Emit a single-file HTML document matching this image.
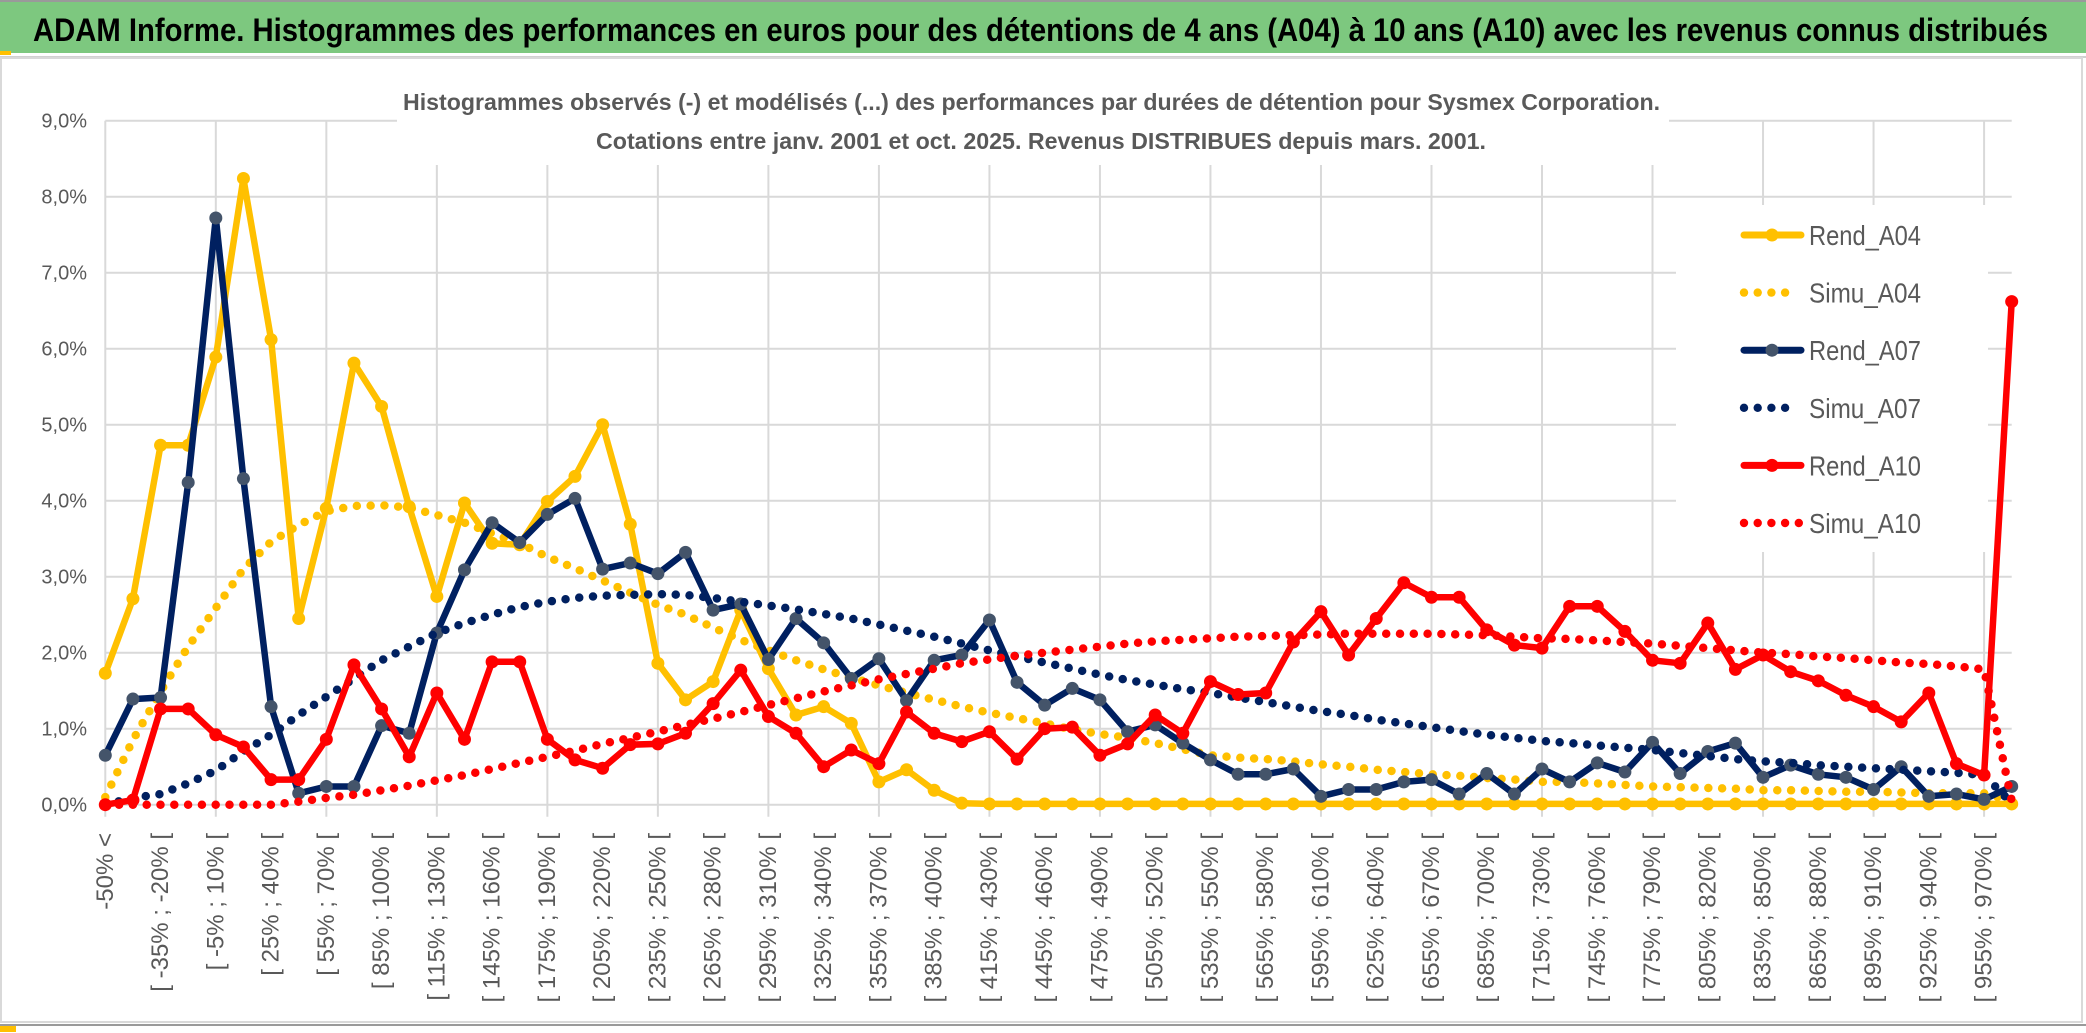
<!DOCTYPE html>
<html><head><meta charset="utf-8"><title>ADAM Informe</title>
<style>
html,body{margin:0;padding:0;background:#fff;}
svg{display:block;}
text{font-family:"Liberation Sans Narrow","Liberation Sans",sans-serif;}
</style></head>
<body>
<svg id="chart" width="2086" height="1033" viewBox="0 0 2086 1033" xmlns="http://www.w3.org/2000/svg">
  <rect x="0" y="0" width="2086" height="1033" fill="#fff"/>
  <rect x="0" y="2" width="2086" height="51" fill="#7dc87f"/>
  <rect x="0" y="0" width="2086" height="2" fill="#9a9a9a"/>
  <rect x="0" y="51" width="11" height="4" fill="#ffc000"/>
  <rect x="0" y="56" width="2086" height="2" fill="#d0d0d0"/>
  <text x="33" y="41" font-size="32" font-weight="bold" fill="#000" textLength="2015" lengthAdjust="spacingAndGlyphs">ADAM Informe. Histogrammes des performances en euros pour des détentions de 4 ans (A04) à 10 ans (A10) avec les revenus connus distribués</text>
  <rect x="1" y="58" width="2081" height="964" fill="none" stroke="#d9d9d9" stroke-width="2"/>
  <rect x="0" y="1024" width="2086" height="2" fill="#9a9a9a"/>
  <rect x="0" y="1026" width="16" height="6" fill="#ffc000"/>
  <g id="grid"></g>
  <g id="yaxis"></g>
  <g id="xaxis"></g>
  <rect x="397" y="95" width="1272" height="70" fill="#fff"/>
  <text x="403" y="110" font-size="23" font-weight="bold" fill="#595959" textLength="1257" lengthAdjust="spacingAndGlyphs">Histogrammes observés (-) et modélisés (...) des performances par durées de détention pour Sysmex Corporation.</text>
  <text x="596" y="149" font-size="23" font-weight="bold" fill="#595959" textLength="890" lengthAdjust="spacingAndGlyphs">Cotations entre janv. 2001 et oct. 2025. Revenus DISTRIBUES depuis mars. 2001.</text>
  <rect x="1676" y="205" width="312" height="347" fill="#fff"/>
  <g id="series"></g>
  <g id="legend"></g>
</svg>
<script>
const categories = ["-50% <","[ -50% ; -35% [","[ -35% ; -20% [","[ -20% ; -5% [","[ -5% ; 10% [","[ 10% ; 25% [","[ 25% ; 40% [","[ 40% ; 55% [","[ 55% ; 70% [","[ 70% ; 85% [",
"[ 85% ; 100% [","[ 100% ; 115% [","[ 115% ; 130% [","[ 130% ; 145% [","[ 145% ; 160% [","[ 160% ; 175% [","[ 175% ; 190% [","[ 190% ; 205% [","[ 205% ; 220% [","[ 220% ; 235% [",
"[ 235% ; 250% [","[ 250% ; 265% [","[ 265% ; 280% [","[ 280% ; 295% [","[ 295% ; 310% [","[ 310% ; 325% [","[ 325% ; 340% [","[ 340% ; 355% [","[ 355% ; 370% [","[ 370% ; 385% [",
"[ 385% ; 400% [","[ 400% ; 415% [","[ 415% ; 430% [","[ 430% ; 445% [","[ 445% ; 460% [","[ 460% ; 475% [","[ 475% ; 490% [","[ 490% ; 505% [","[ 505% ; 520% [","[ 520% ; 535% [",
"[ 535% ; 550% [","[ 550% ; 565% [","[ 565% ; 580% [","[ 580% ; 595% [","[ 595% ; 610% [","[ 610% ; 625% [","[ 625% ; 640% [","[ 640% ; 655% [","[ 655% ; 670% [","[ 670% ; 685% [",
"[ 685% ; 700% [","[ 700% ; 715% [","[ 715% ; 730% [","[ 730% ; 745% [","[ 745% ; 760% [","[ 760% ; 775% [","[ 775% ; 790% [","[ 790% ; 805% [","[ 805% ; 820% [","[ 820% ; 835% [",
"[ 835% ; 850% [","[ 850% ; 865% [","[ 865% ; 880% [","[ 880% ; 895% [","[ 895% ; 910% [","[ 910% ; 925% [","[ 925% ; 940% [","[ 940% ; 955% [","[ 955% ; 970% [","970% <="];

const rendA04 = [1.73,2.71,4.73,4.73,5.89,8.24,6.12,2.45,3.90,5.81,
5.24,3.92,2.74,3.97,3.44,3.42,3.99,4.32,5.00,3.69,
1.86,1.38,1.62,2.56,1.79,1.18,1.29,1.07,0.30,0.46,
0.19,0.02,0.01,0.01,0.01,0.01,0.01,0.01,0.01,0.01,
0.01,0.01,0.01,0.01,0.01,0.01,0.01,0.01,0.01,0.01,
0.01,0.01,0.01,0.01,0.01,0.01,0.01,0.01,0.01,0.01,
0.01,0.01,0.01,0.01,0.01,0.01,0.01,0.01,0.01,0.01];
const simuA04 = [0.1,0.85,1.49,2.08,2.59,3.10,3.46,3.68,3.86,3.93,
3.94,3.91,3.81,3.71,3.57,3.44,3.26,3.11,2.95,2.79,
2.63,2.50,2.33,2.17,2.03,1.90,1.78,1.67,1.57,1.47,
1.38,1.29,1.21,1.14,1.07,0.99,0.93,0.88,0.81,0.73,
0.65,0.62,0.60,0.57,0.53,0.50,0.46,0.43,0.40,0.38,
0.35,0.33,0.30,0.30,0.28,0.26,0.24,0.23,0.22,0.21,
0.19,0.19,0.18,0.17,0.17,0.16,0.15,0.15,0.15,0.05];
const rendA07 = [0.65,1.39,1.41,4.24,7.72,4.29,1.29,0.15,0.24,0.24,
1.04,0.94,2.26,3.09,3.71,3.45,3.82,4.03,3.10,3.18,
3.04,3.32,2.56,2.64,1.91,2.45,2.13,1.66,1.92,1.37,
1.90,1.97,2.43,1.61,1.31,1.53,1.38,0.96,1.05,0.81,
0.59,0.40,0.40,0.47,0.11,0.20,0.20,0.30,0.33,0.14,
0.41,0.14,0.47,0.30,0.55,0.43,0.82,0.41,0.70,0.81,
0.36,0.52,0.40,0.36,0.20,0.50,0.11,0.14,0.07,0.24];
const simuA07 = [0.0,0.09,0.14,0.28,0.45,0.70,0.92,1.18,1.42,1.66,
1.90,2.08,2.26,2.39,2.50,2.60,2.67,2.72,2.75,2.76,
2.77,2.76,2.72,2.67,2.62,2.57,2.51,2.45,2.37,2.29,
2.21,2.12,2.03,1.95,1.87,1.79,1.71,1.64,1.58,1.52,
1.47,1.41,1.35,1.29,1.23,1.18,1.12,1.07,1.02,0.97,
0.92,0.88,0.84,0.81,0.78,0.75,0.72,0.68,0.64,0.60,
0.57,0.55,0.52,0.50,0.48,0.46,0.44,0.42,0.39,0.02];
const rendA10 = [0.0,0.06,1.26,1.26,0.92,0.76,0.33,0.33,0.86,1.84,
1.26,0.63,1.47,0.86,1.88,1.88,0.86,0.59,0.48,0.79,
0.80,0.94,1.33,1.77,1.16,0.94,0.50,0.72,0.54,1.22,
0.94,0.83,0.96,0.60,1.00,1.02,0.65,0.80,1.18,0.94,
1.62,1.45,1.47,2.14,2.54,1.97,2.45,2.92,2.73,2.73,
2.30,2.10,2.06,2.61,2.61,2.28,1.90,1.86,2.39,1.78,
1.97,1.75,1.63,1.44,1.29,1.09,1.47,0.54,0.39,6.62];
const simuA10 = [0,0,0,0,0,0,0,0.04,0.09,0.13,
0.19,0.25,0.32,0.39,0.47,0.55,0.63,0.71,0.80,0.88,
0.96,1.05,1.13,1.22,1.31,1.40,1.49,1.57,1.65,1.72,
1.79,1.86,1.91,1.96,2.00,2.04,2.08,2.12,2.15,2.17,
2.19,2.21,2.22,2.23,2.24,2.25,2.25,2.25,2.25,2.24,
2.23,2.21,2.19,2.18,2.16,2.14,2.12,2.09,2.06,2.03,
2.00,1.98,1.95,1.93,1.90,1.87,1.85,1.82,1.78,0.05];
const yTicks = [0,1,2,3,4,5,6,7,8,9];
const yTickLabels = ["0,0%","1,0%","2,0%","3,0%","4,0%","5,0%","6,0%","7,0%","8,0%","9,0%"];
const seriesNames = ["Rend_A04","Simu_A04","Rend_A07","Simu_A07","Rend_A10","Simu_A10"];

const NS = "http://www.w3.org/2000/svg";
const X0 = 105.3, X1 = 2011.7, Y0 = 804.7, Y9 = 120.7, YMAX = 9;
function xPos(i){ return X0 + (X1 - X0) * i / (categories.length - 1); }
function yPos(v){ return Y0 - (Y0 - Y9) * v / YMAX; }
function mk(tag, attrs, parent){
  const e = document.createElementNS(NS, tag);
  for (const k in attrs) e.setAttribute(k, attrs[k]);
  parent.appendChild(e);
  return e;
}
const grid = document.getElementById('grid');
const yaxis = document.getElementById('yaxis');
const xaxis = document.getElementById('xaxis');
const seriesG = document.getElementById('series');
const legend = document.getElementById('legend');

yTicks.forEach((t, k) => {
  const l = mk('line', {x1: X0, x2: X1, y1: yPos(t), y2: yPos(t), stroke: '#d9d9d9', 'stroke-width': 2}, grid);
  
  
  const tx = mk('text', {x: 87, y: yPos(t) + 7, 'font-size': 20, fill: '#595959', 'text-anchor': 'end'}, yaxis);
  tx.textContent = yTickLabels[k];
  
  
});
for (let i = 0; i < categories.length; i += 4) {
  const l = mk('line', {x1: xPos(i), x2: xPos(i), y1: Y9, y2: Y0 + 12, stroke: '#d9d9d9', 'stroke-width': 2}, grid);
  
  
}
for (let i = 0; i < categories.length - 1; i += 2) {
  const x = xPos(i);
  const tx = mk('text', {x: 0, y: 0, 'font-size': 24, fill: '#595959', 'text-anchor': 'end', 'dominant-baseline': 'central',
    transform: 'translate(' + x + ',833) rotate(-90)', style: 'font-family:"Liberation Sans",sans-serif'}, xaxis);
  tx.textContent = categories[i];
  
  
}

const styles = [
  {data: rendA04, color: '#ffc000', dotted: false, marker: '#ffc000'},
  {data: simuA04, color: '#ffc000', dotted: true},
  {data: rendA07, color: '#002060', dotted: false, marker: '#44546a'},
  {data: simuA07, color: '#002060', dotted: true},
  {data: rendA10, color: '#ff0000', dotted: false, marker: '#ff0000'},
  {data: simuA10, color: '#ff0000', dotted: true}
];
styles.forEach((s, si) => {
  const pts = s.data.map((v, i) => xPos(i).toFixed(1) + ',' + yPos(v).toFixed(1)).join(' ');
  const g = mk('g', {}, seriesG);
  
  
  const attrs = {points: pts, fill: 'none', stroke: s.color, 'stroke-linejoin': 'round'};
  if (s.dotted) { attrs['stroke-width'] = 8.5; attrs['stroke-dasharray'] = '0 13.8'; attrs['stroke-linecap'] = 'round'; }
  else { attrs['stroke-width'] = 6.5; attrs['stroke-linecap'] = 'round'; }
  const pl = mk('polyline', attrs, g);
  
  
  if (!s.dotted) {
    s.data.forEach((v, i) => {
      const c = mk('circle', {cx: xPos(i), cy: yPos(v), r: 6.5, fill: s.marker}, g);
      
      
    });
  }
  // legend
  const ly = 235 + si * 57.6;
  const le = mk('g', {}, legend);
  
  
  if (s.dotted) {
    const n = si === 5 ? 5 : 4;
    for (let d = 0; d < n; d++) {
      const c = mk('circle', {cx: 1744 + d * 13.7, cy: ly, r: 4.2, fill: s.color}, le);
      
      
    }
  } else {
    const l = mk('line', {x1: 1744, x2: 1801, y1: ly, y2: ly, stroke: s.color, 'stroke-width': 7, 'stroke-linecap': 'round'}, le);
    
    
    const c = mk('circle', {cx: 1772, cy: ly, r: 6.5, fill: s.marker}, le);
    
    
  }
  const t = mk('text', {x: 1809, y: ly + 10, 'font-size': 28, fill: '#595959', textLength: 112, lengthAdjust: 'spacingAndGlyphs'}, le);
  t.textContent = seriesNames[si];
  
  
});
</script>
</body></html>
